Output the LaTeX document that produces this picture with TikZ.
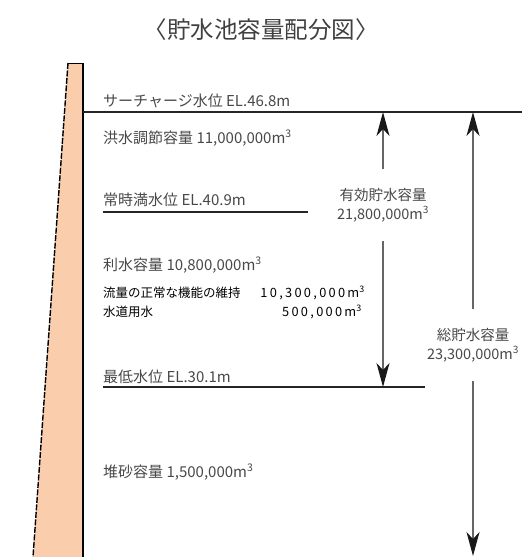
\documentclass[tikz,border=0pt]{standalone}
\usepackage{fontspec}
\newfontfamily\jp{Noto Sans CJK JP}
\newfontfamily\jpsp[LetterSpace=18]{Noto Sans CJK JP}
\usetikzlibrary{arrows.meta}
\definecolor{damfill}{RGB}{250,206,172}
\definecolor{txt}{RGB}{72,72,72}
\tikzset{
  lbl/.style={anchor=west,inner sep=0pt,font=\jp\fontsize{15}{17}\selectfont,text=txt},
  blk/.style={inner sep=0pt,font=\jp\fontsize{12.5}{14}\selectfont,text=black},
  num/.style={anchor=east,inner sep=0pt,font=\jpsp\fontsize{12.8}{14}\selectfont,text=black},
  vlab/.style={align=center,inner xsep=0pt,inner ysep=19pt,font=\jp\fontsize{14.5}{19}\selectfont,text=txt},
  lvl/.style={line width=1.8pt,draw=black!85},
  arr/.style={line width=1.3pt,draw=black!60,-{Stealth[length=24pt,width=13pt,inset=7pt,color=black!90]}},
}
\begin{document}
\begin{tikzpicture}[x=1pt,y=-1pt]
\useasboundingbox (0,0) rectangle (522,557);
% title
\node[font=\jp\fontsize{23.5}{26}\selectfont,text=black!75,inner sep=0pt] (title) at (261,30) {〈貯水池容量配分図〉};
% dam
\fill[damfill] (68,63) -- (83,63) -- (83,557) -- (33,557) -- cycle;
\draw[line width=1.4pt,dash pattern=on 6pt off 1.5pt] (68,63) -- (33,557);
\draw[line width=1pt] (68,63) -- (83,63);
\draw[line width=1.8pt] (83,63) -- (83,557);
% levels
\coordinate (sL) at (83,112);
\coordinate (sR) at (522,112);
\draw[lvl] (sL) -- (sR);
\coordinate (nL) at (103,212);
\coordinate (nR) at (308,212);
\draw[lvl] (nL) -- (nR);
\coordinate (mL) at (103,387);
\coordinate (mR) at (425,387);
\draw[lvl] (mL) -- (mR);
% labels
\node[lbl] (sur) at (103,101) {サーチャージ水位 EL.46.8m};
\node[lbl] (flood) at (103,138) {洪水調節容量 11,000,000m\textsuperscript{3}};
\node[lbl] (nwl) at (103,200) {常時満水位 EL.40.9m};
\node[lbl] (util) at (103,265) {利水容量 10,800,000m\textsuperscript{3}};
\node[blk,anchor=west] (use1) at (103,293) {流量の正常な機能の維持};
\node[num] (use1n) at (365,293) {10,300,000m\textsuperscript{3}};
\node[blk,anchor=west] (use2) at (103,312) {水道用水};
\node[num] (use2n) at (362,312) {500,000m\textsuperscript{3}};
\node[lbl] (mwl) at (103,377) {最低水位 EL.30.1m};
\node[lbl] (sed) at (103,472) {堆砂容量 1,500,000m\textsuperscript{3}};
% effective storage arrow
\coordinate (e1) at (383,112);
\coordinate (e2) at (383,387);
\node[vlab] (eff) at (383,205) {有効貯水容量\\21,800,000m\textsuperscript{3}};
\draw[arr] (eff.north) -- (e1);
\draw[arr] (eff.south) -- (e2);
% total storage arrow
\coordinate (t1) at (473,112);
\coordinate (t2) at (473,556);
\node[vlab] (tot) at (473,345) {総貯水容量\\23,300,000m\textsuperscript{3}};
\draw[arr] (tot.north) -- (t1);
\draw[arr] (tot.south) -- (t2);
\end{tikzpicture}
\end{document}
